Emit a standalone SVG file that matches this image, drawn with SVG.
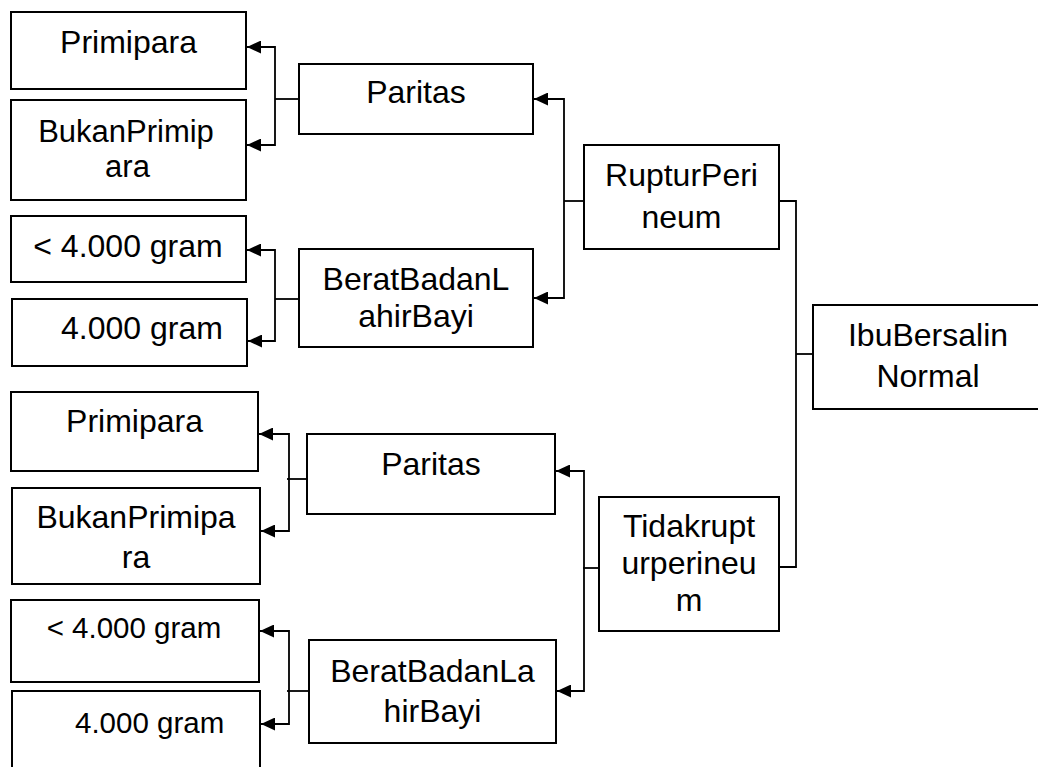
<svg xmlns="http://www.w3.org/2000/svg" width="1038" height="767" viewBox="0 0 1038 767">
<defs>
<style>
.box{fill:#fff;stroke:#000;stroke-width:2}
.t{font-family:"Liberation Sans",Arial,sans-serif;font-size:32px;fill:#000;text-anchor:middle}
.s{font-size:29.5px}
.b1{font-size:31px}
.l{text-anchor:start}
.c{fill:none;stroke:#000;stroke-width:1.8}
.a{marker-end:url(#ah)}
</style>
<marker id="ah" viewBox="0 0 14 13" refX="14" refY="6.5" markerWidth="14" markerHeight="13" markerUnits="userSpaceOnUse" orient="auto">
<path d="M0,0 L14,6.5 L0,13 Z" fill="#000"/>
</marker>
</defs>
<rect width="1038" height="767" fill="#fff"/>

<g id="connectors">
<polyline class="c" points="299,99 275,99"/>
<polyline class="c a" points="275,99 275,47 247,47"/>
<polyline class="c a" points="275,99 275,145 247,145"/>
<polyline class="c" points="299,299 275,299"/>
<polyline class="c a" points="275,299 275,250 247,250"/>
<polyline class="c a" points="275,299 275,341 248,341"/>
<polyline class="c" points="584,201 564,201"/>
<polyline class="c a" points="564,201 564,99 534,99"/>
<polyline class="c a" points="564,201 564,298 534,298"/>
<polyline class="c" points="779,201 796,201 796,567 779,567"/>
<polyline class="c" points="796,354 813,354"/>
<polyline class="c" points="307,479 287,479"/>
<polyline class="c a" points="289,479 289,434 259,434"/>
<polyline class="c a" points="289,479 289,531 261,531"/>
<polyline class="c" points="309,691 287,691"/>
<polyline class="c a" points="289,691 289,631 260,631"/>
<polyline class="c a" points="289,691 289,724 261,724"/>
<polyline class="c" points="599,568 583,568"/>
<polyline class="c a" points="584,568 584,471 556,471"/>
<polyline class="c a" points="584,568 584,691 557,691"/>
</g>

<g id="n-primipara1"><rect class="box" x="11" y="12" width="235" height="77"/><text class="t" x="128.5" y="53">Primipara</text></g>
<g id="n-bukan1"><rect class="box" x="11" y="100" width="235" height="100"/><text class="t b1" x="126" y="142">BukanPrimip</text><text class="t b1" x="127.5" y="177">ara</text></g>
<g id="n-lt1"><rect class="box" x="11" y="216" width="235" height="66"/><text class="t" x="128" y="257">&lt; 4.000 gram</text></g>
<g id="n-ge1"><rect class="box" x="12" y="299" width="235" height="67"/><text class="t l" x="61" y="339">4.000 gram</text></g>
<g id="n-paritas1"><rect class="box" x="299" y="64" width="234" height="70"/><text class="t" x="416" y="103">Paritas</text></g>
<g id="n-bbl1"><rect class="box" x="299" y="249" width="234" height="98"/><text class="t" x="416" y="290">BeratBadanL</text><text class="t" x="416" y="327">ahirBayi</text></g>
<g id="n-ruptur"><rect class="box" x="584" y="145" width="195" height="104"/><text class="t" x="681.5" y="186">RupturPeri</text><text class="t" x="681.5" y="228">neum</text></g>
<g id="n-ibu"><rect class="box" x="813" y="305" width="232" height="104"/><text class="t" x="928" y="346">IbuBersalin</text><text class="t" x="928" y="387">Normal</text></g>
<g id="n-primipara2"><rect class="box" x="11" y="392" width="247" height="79"/><text class="t" x="134.5" y="432">Primipara</text></g>
<g id="n-bukan2"><rect class="box" x="12" y="488" width="248" height="96"/><text class="t" x="136" y="528">BukanPrimipa</text><text class="t" x="136" y="568">ra</text></g>
<g id="n-lt2"><rect class="box" x="11" y="600" width="248" height="82"/><text class="t s" x="134" y="638">&lt; 4.000 gram</text></g>
<g id="n-ge2"><rect class="box" x="12" y="691" width="248" height="90"/><text class="t s l" x="75" y="733">4.000 gram</text></g>
<g id="n-paritas2"><rect class="box" x="307" y="434" width="248" height="80"/><text class="t" x="431" y="475">Paritas</text></g>
<g id="n-bbl2"><rect class="box" x="309" y="640" width="247" height="103"/><text class="t" x="432.5" y="682">BeratBadanLa</text><text class="t" x="432.5" y="722">hirBayi</text></g>
<g id="n-tidak"><rect class="box" x="599" y="497" width="180" height="134"/><text class="t" x="689" y="537">Tidakrupt</text><text class="t" x="689" y="574">urperineu</text><text class="t" x="689" y="611">m</text></g>
</svg>
